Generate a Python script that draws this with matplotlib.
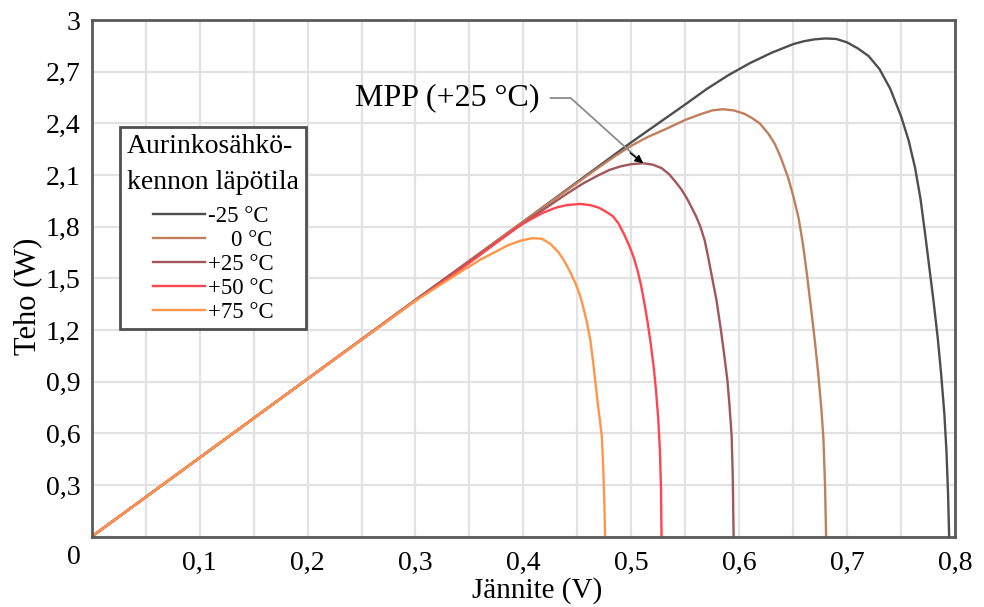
import matplotlib.pyplot as plt
import matplotlib.transforms as mtransforms
from matplotlib.ticker import MultipleLocator, FuncFormatter

plt.rcParams['font.family'] = ['Liberation Serif', 'DejaVu Serif']

# Voltage (V) and power (W) per cell temperature
v_m25 = [0, 0.1, 0.2, 0.3, 0.4, 0.45, 0.5, 0.55, 0.57, 0.59, 0.61, 0.62, 0.63, 0.64, 0.65,
         0.66, 0.67, 0.68, 0.69, 0.70, 0.71, 0.72, 0.73, 0.74, 0.75, 0.757, 0.763, 0.768,
         0.772, 0.776, 0.78, 0.784, 0.787, 0.790, 0.792, 0.7935, 0.7945]
p_m25 = [0, 0.458, 0.916, 1.374, 1.83, 2.06, 2.29, 2.51, 2.60, 2.68, 2.75, 2.78, 2.81, 2.835,
         2.86, 2.877, 2.888, 2.893, 2.89, 2.87, 2.835, 2.79, 2.715, 2.60, 2.44, 2.30, 2.14,
         1.96, 1.77, 1.57, 1.37, 1.15, 0.95, 0.72, 0.50, 0.25, 0]

v_0 = [0, 0.1, 0.2, 0.3, 0.4, 0.45, 0.47, 0.485, 0.5, 0.515, 0.533, 0.55, 0.565, 0.575,
       0.585, 0.595, 0.605, 0.612, 0.619, 0.627, 0.633, 0.638, 0.645, 0.650, 0.655, 0.659,
       0.663, 0.667, 0.670, 0.673, 0.676, 0.678, 0.6795, 0.6805]
p_0 = [0, 0.458, 0.916, 1.374, 1.83, 2.055, 2.145, 2.21, 2.27, 2.32, 2.37, 2.42, 2.455, 2.475,
       2.482, 2.475, 2.455, 2.43, 2.40, 2.34, 2.28, 2.21, 2.09, 1.98, 1.85, 1.70,
       1.51, 1.30, 1.14, 0.96, 0.75, 0.57, 0.3, 0]

v_25 = [0, 0.1, 0.2, 0.3, 0.4, 0.44, 0.455, 0.47, 0.48, 0.49, 0.50, 0.511, 0.52, 0.528,
        0.535, 0.541, 0.546, 0.551, 0.556, 0.56, 0.564, 0.568, 0.571, 0.575, 0.579, 0.583,
        0.586, 0.589, 0.591, 0.593, 0.594, 0.5948]
p_25 = [0, 0.458, 0.916, 1.374, 1.82, 1.99, 2.05, 2.10, 2.13, 2.15, 2.163, 2.168, 2.16, 2.14,
        2.105, 2.06, 2.02, 1.97, 1.91, 1.86, 1.80, 1.72, 1.63, 1.50, 1.37, 1.20,
        1.06, 0.91, 0.76, 0.58, 0.35, 0]

v_50 = [0, 0.1, 0.2, 0.3, 0.33, 0.35, 0.365, 0.38, 0.395, 0.406, 0.418, 0.43, 0.44, 0.4525,
        0.462, 0.47, 0.477, 0.483, 0.488, 0.493, 0.498, 0.502, 0.506, 0.509, 0.512, 0.515,
        0.518, 0.521, 0.523, 0.525, 0.5265, 0.5275, 0.528]
p_50 = [0, 0.458, 0.916, 1.37, 1.50, 1.59, 1.66, 1.73, 1.80, 1.84, 1.88, 1.91, 1.925, 1.932,
        1.925, 1.91, 1.885, 1.86, 1.82, 1.76, 1.69, 1.626, 1.54, 1.46, 1.36, 1.25,
        1.12, 0.97, 0.84, 0.68, 0.50, 0.28, 0]

v_75 = [0, 0.1, 0.2, 0.3, 0.315, 0.33, 0.345, 0.36, 0.373, 0.385, 0.397, 0.408, 0.417, 0.425,
        0.432, 0.437, 0.441, 0.445, 0.449, 0.4525, 0.456, 0.459, 0.462, 0.4645, 0.4665,
        0.469, 0.471, 0.4727, 0.474, 0.475, 0.4757]
p_75 = [0, 0.458, 0.916, 1.37, 1.43, 1.49, 1.55, 1.608, 1.65, 1.69, 1.718, 1.733, 1.73, 1.70,
        1.655, 1.61, 1.565, 1.515, 1.46, 1.40, 1.32, 1.24, 1.142, 1.02, 0.91,
        0.77, 0.67, 0.58, 0.40, 0.2, 0]

labels = ['-25 °C', '    0 °C', '+25 °C', '+50 °C', '+75 °C']
colors = ['#4e4e4e', '#c07f5c', '#a2565b', '#ff4550', '#ff9548']
mpp_v, mpp_p = 0.511, 2.168

fig = plt.figure(figsize=(9.84, 6.07), dpi=100)
ax = fig.add_axes([0.0932, 0.116, 0.8774, 0.851])

curves = [(v_m25, p_m25), (v_0, p_0), (v_25, p_25), (v_50, p_50), (v_75, p_75)]
for (v, p), lab, c in zip(curves, labels, colors):
    ax.plot(v, p, color=c, lw=1.7, label=lab, solid_joinstyle='round')

ax.set_xlim(0, 0.8)
ax.set_ylim(0, 3)
ax.xaxis.set_major_locator(MultipleLocator(0.1))
ax.xaxis.set_minor_locator(MultipleLocator(0.05))
ax.yaxis.set_major_locator(MultipleLocator(0.3))

ax.xaxis.set_major_formatter(FuncFormatter(lambda x, pos: '' if abs(x) < 1e-9 else f'{x:.1f}'.replace('.', ',')))
ax.yaxis.set_major_formatter(FuncFormatter(lambda y, pos: '0' if abs(y) < 1e-9 else
                                           ('3' if abs(y - 3) < 1e-9 else f'{y:.1f}'.replace('.', ','))))
ax.tick_params(which='both', length=0, labelsize=20)
ax.tick_params(axis='x', pad=10)
ax.tick_params(axis='y', pad=8)

# shift the y "0" label a bit down, as in the reference
offset = mtransforms.ScaledTranslation(0, -13 / 72, fig.dpi_scale_trans)
for lbl in ax.get_yticklabels():
    if lbl.get_text() == '0':
        lbl.set_transform(lbl.get_transform() + offset)

ax.grid(True, which='both', axis='x', color='#e2e2e2', lw=1.6)
ax.grid(True, which='major', axis='y', color='#e2e2e2', lw=1.6)
ax.set_axisbelow(True)

for s in ax.spines.values():
    s.set_color('#5a5a5a')
    s.set_linewidth(2)

ax.set_xlabel('Jännite (V)', fontsize=21)
ax.set_ylabel('Teho (W)', fontsize=22)
ax.xaxis.set_label_coords(0.516, -0.079)
ax.yaxis.set_label_coords(-0.057, 0.465)

ax.annotate('', xy=(mpp_v, mpp_p), xytext=(0.425, 2.547),
            arrowprops=dict(arrowstyle='-', color='#8c8c8c', lw=1.3,
                            connectionstyle='angle,angleA=0,angleB=-42,rad=0',
                            shrinkA=0, shrinkB=0))
ax.annotate('', xy=(mpp_v, mpp_p), xytext=(mpp_v - 0.012, mpp_p + 0.06),
            arrowprops=dict(arrowstyle='-|>', color='black', lw=1, mutation_scale=12,
                            shrinkA=0, shrinkB=0))
ax.text(0.329, 2.547, 'MPP (+25 °C)', fontsize=23, ha='center', va='center')

leg = ax.legend(title='Aurinkosähkö-\nkennon läpötila', loc='upper left',
                bbox_to_anchor=(0.033, 0.793), borderaxespad=0, fontsize=16.5,
                title_fontsize=20, fancybox=False, framealpha=1, edgecolor='#505050',
                handlelength=2.3, handletextpad=0.1, labelspacing=0.12,
                borderpad=0.3)
leg.get_frame().set_linewidth(2)
leg.get_title().set_linespacing(1.6)
leg._legend_box.sep = 8  # a bit more room between title and entries

fig.savefig('out.png', dpi=100)
